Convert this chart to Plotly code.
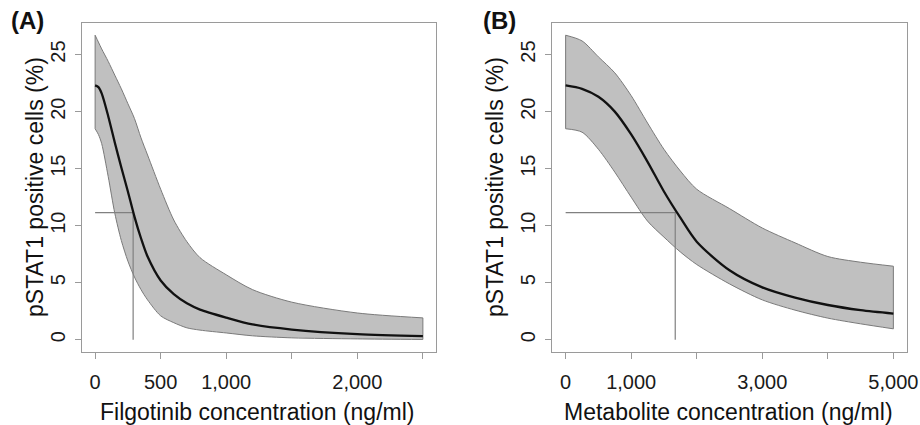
import plotly.graph_objects as go

# ---------------- data ----------------
# Panel A: filgotinib
conc_A = [0, 25, 50, 100, 150, 200, 250, 300, 350, 400, 500, 600, 700, 800, 1000, 1200, 1500, 2000, 2500]
median_A = [22.3, 22.15, 21.6, 19.6, 17.3, 15.1, 13.0, 10.8, 8.9, 7.3, 5.2, 4.0, 3.2, 2.65, 1.95, 1.35, 0.9, 0.5, 0.32]
upper_A = [26.7, 26.1, 25.5, 24.4, 23.2, 22.0, 20.7, 19.4, 17.7, 16.2, 13.2, 10.5, 8.6, 7.2, 5.7, 4.4, 3.3, 2.35, 1.92]
lower_A = [18.5, 18.0, 17.2, 14.3, 11.1, 8.7, 6.9, 5.5, 4.4, 3.5, 2.1, 1.5, 1.05, 0.85, 0.6, 0.35, 0.17, 0.08, 0.03]
ref_A = (290, 11.15)
xticks_A = [0, 500, 1000, 1500, 2000, 2500]
xlabels_A = ["0", "500", "1,000", "", "2,000", ""]

# Panel B: metabolite
conc_B = [0, 250, 500, 750, 1000, 1250, 1500, 1750, 2000, 2500, 3000, 3500, 4000, 4500, 5000]
median_B = [22.3, 22.0, 21.3, 20.0, 18.0, 15.6, 13.0, 10.7, 8.6, 6.1, 4.6, 3.7, 3.05, 2.6, 2.3]
upper_B = [26.7, 26.2, 24.8, 23.4, 21.4, 19.0, 16.7, 14.8, 13.2, 11.5, 9.8, 8.5, 7.3, 6.8, 6.45]
lower_B = [18.5, 18.2, 16.7, 14.7, 12.5, 10.4, 9.0, 7.7, 6.6, 4.9, 3.5, 2.6, 1.9, 1.4, 0.96]
ref_B = (1672, 11.15)
xticks_B = [0, 1000, 2000, 3000, 4000, 5000]
xlabels_B = ["0", "1,000", "", "3,000", "", "5,000"]

yticks = [0, 5, 10, 15, 20, 25]
ytitle = "pSTAT1 positive cells (%)"
xtitle_A = "Filgotinib concentration (ng/ml)"
xtitle_B = "Metabolite concentration (ng/ml)"

# ---------------- figure ----------------
FONT = "Liberation Sans, Arial, sans-serif"
BAND = "#c0c0c0"
BAND_EDGE = "#7a7a7a"
REF = "#808080"
AXIS = "#9a9a9a"

fig = go.Figure()

def add_panel(conc, med, up, lo, ref, xa, ya):
    fig.add_trace(go.Scatter(
        x=conc, y=lo, mode="lines", line=dict(color=BAND_EDGE, width=1, shape="spline", smoothing=0.8),
        xaxis=xa, yaxis=ya, showlegend=False, hoverinfo="skip"))
    fig.add_trace(go.Scatter(
        x=conc, y=up, mode="lines", fill="tonexty", fillcolor=BAND,
        line=dict(color=BAND_EDGE, width=1, shape="spline", smoothing=0.8),
        xaxis=xa, yaxis=ya, showlegend=False, hoverinfo="skip"))
    for i in (0, -1):
        fig.add_trace(go.Scatter(
            x=[conc[i], conc[i]], y=[lo[i], up[i]], mode="lines",
            line=dict(color=BAND_EDGE, width=1), xaxis=xa, yaxis=ya,
            showlegend=False, hoverinfo="skip"))
    fig.add_trace(go.Scatter(
        x=[0, ref[0], ref[0]], y=[ref[1], ref[1], 0], mode="lines",
        line=dict(color=REF, width=1.2), xaxis=xa, yaxis=ya, showlegend=False))
    fig.add_trace(go.Scatter(
        x=conc, y=med, mode="lines", line=dict(color="#111111", width=2.3, shape="spline", smoothing=0.8),
        xaxis=xa, yaxis=ya, showlegend=False))

add_panel(conc_A, median_A, upper_A, lower_A, ref_A, "x", "y")
add_panel(conc_B, median_B, upper_B, lower_B, ref_B, "x2", "y2")

W, H = 920, 425
ydom = [73 / H, 402 / H]

common_axis = dict(showline=True, linecolor=AXIS, linewidth=1, mirror=True,
                   ticks="outside", ticklen=6, tickcolor=AXIS, tickwidth=1,
                   showgrid=False, zeroline=False, automargin=False,
                   tickfont=dict(family=FONT, size=20, color="#1a1a1a"))

def ann(text, x, y, size, angle=0, bold=False):
    return dict(text=f"<b>{text}</b>" if bold else text, x=x / W, y=1 - y / H,
                xref="paper", yref="paper", xanchor="center", yanchor="middle",
                showarrow=False, textangle=angle,
                font=dict(family=FONT, size=size, color="#111111"))

fig.update_layout(
    width=W, height=H, margin=dict(l=0, r=0, t=0, b=0),
    paper_bgcolor="white", plot_bgcolor="white",
    font=dict(family=FONT, color="#1a1a1a"),
    xaxis=dict(domain=[82 / W, 436 / W], range=[-100, 2600], tickmode="array",
               tickvals=xticks_A, ticktext=xlabels_A, anchor="y",
               ticklabelstandoff=6, **common_axis),
    yaxis=dict(domain=ydom, range=[-1.07, 27.77], tickmode="array", tickvals=yticks,
               tickangle=-90, anchor="x", ticklabelstandoff=2, **common_axis),
    xaxis2=dict(domain=[552 / W, 907 / W], range=[-208, 5208], tickmode="array",
                tickvals=xticks_B, ticktext=xlabels_B, anchor="y2",
                ticklabelstandoff=6, **common_axis),
    yaxis2=dict(domain=ydom, range=[-1.07, 27.77], tickmode="array", tickvals=yticks,
                tickangle=-90, anchor="x2", ticklabelstandoff=2, **common_axis),
    annotations=[
        ann("(A)", 27, 20, 24, bold=True),
        ann("(B)", 499, 20, 24, bold=True),
        ann(xtitle_A, 257, 412, 23),
        ann(xtitle_B, 728, 412, 23),
        ann(ytitle, 35, 187, 23, angle=-90),
        ann(ytitle, 495, 187, 23, angle=-90),
    ],
)

fig.write_html(
    "out.html",
    config={"displayModeBar": False},
    post_script="document.body.style.margin='0';document.body.style.overflow='hidden';",
)
